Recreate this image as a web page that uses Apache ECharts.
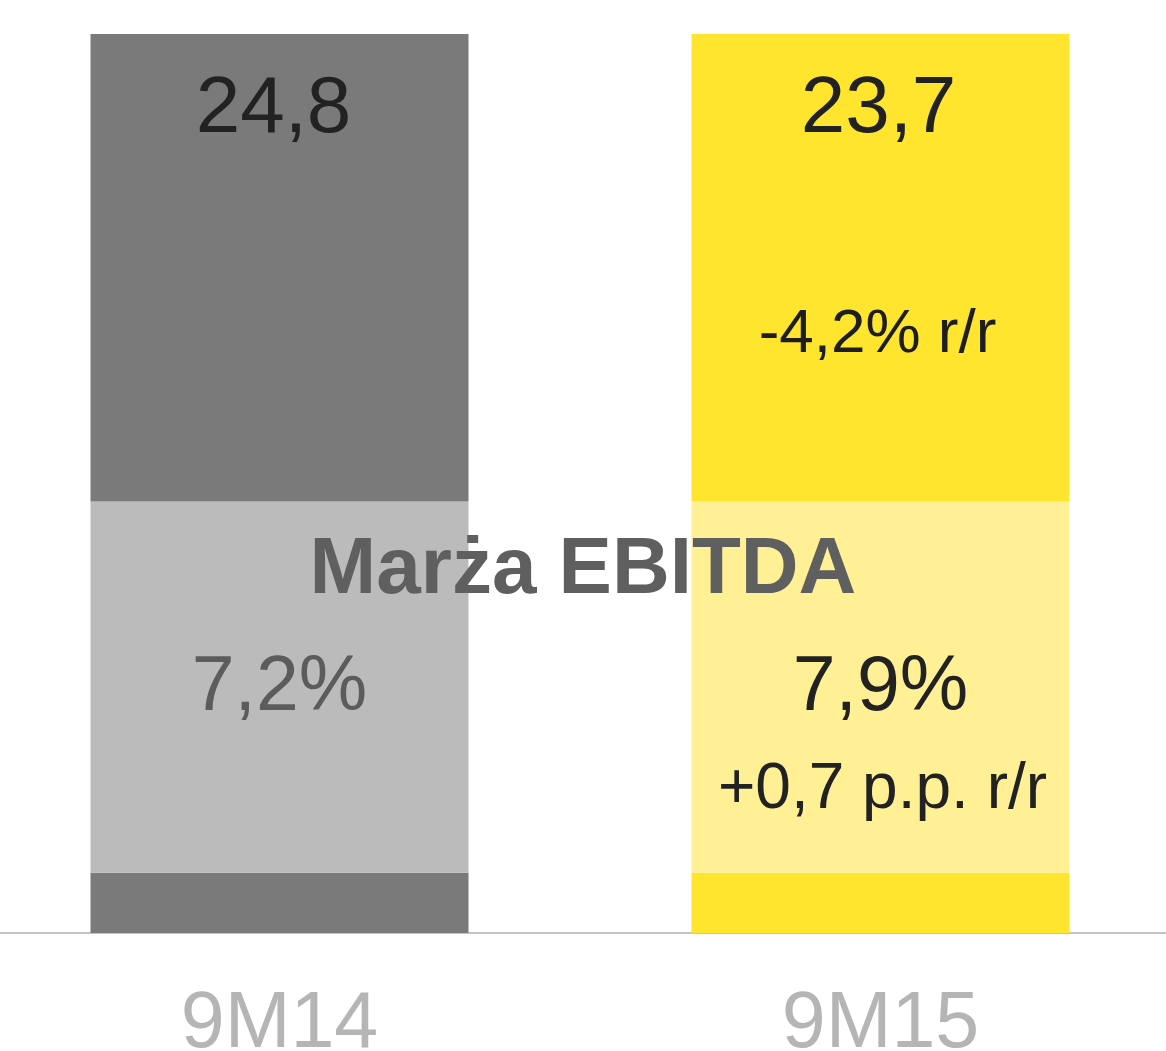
<!DOCTYPE html>
<html>
<head>
<meta charset="utf-8">
<script src="https://cdn.jsdelivr.net/npm/echarts@6/dist/echarts.min.js"></script>
<style>
  html, body { margin: 0; padding: 0; background: #fff; }
  #chart { width: 1166px; height: 1051px; }
</style>
</head>
<body>
<div id="chart"></div>
<script>
// dane
const categories = ["9M14", "9M15"];
const ebitda = ["24,8", "23,7"];
const ebitdaChange = ["", "-4,2% r/r"];
const margin = ["7,2%", "7,9%"];
const marginChange = ["", "+0,7 p.p. r/r"];
// podział wysokości słupka (w % całej wysokości)
const baseShare = [6.7, 6.7];
const marginShare = [41.3, 41.3];
const topShare = [52.0, 52.0];

const FONT = '"Liberation Sans", Arial, Helvetica, sans-serif';
const darkColors = ["#7a7a7a", "#ffe52e"];
const lightColors = ["#bbbbbb", "#fff096"];
const marginTextColors = ["#5c5c5c", "#222222"];
const valueShift = [12, 4]; // lekkie przesunięcie wartości w lewo

const chart = echarts.init(document.getElementById("chart"), null, { renderer: "canvas" });

chart.setOption({
    animation: false,
    backgroundColor: "#ffffff",
    grid: { left: -21, right: -15, top: 34, bottom: 118, outerBoundsMode: "none", containLabel: false },
    xAxis: {
        type: "category",
        data: categories,
        axisLine: { show: true, lineStyle: { color: "#c4c4c4", width: 2 } },
        axisTick: { show: false },
        axisLabel: {
            color: "#b5b5b5",
            fontSize: 79,
            fontFamily: FONT,
            margin: 53,
            lineHeight: 79,
        },
    },
    yAxis: { type: "value", min: 0, max: 100, show: false, splitLine: { show: false } },
    series: [
        {
            type: "bar",
            stack: "s",
            barWidth: 378,
            data: baseShare.map((v, i) => ({ value: v, itemStyle: { color: darkColors[i] } })),
        },
        {
            type: "bar",
            stack: "s",
            data: marginShare.map((v, i) => ({
                value: v,
                itemStyle: { color: lightColors[i] },
                label: {
                    show: true,
                    position: ["50%", 147],
                    align: "center",
                    verticalAlign: "top",
                    formatter: "{a|" + margin[i] + "}\n{b|" + marginChange[i] + "}",
                    rich: {
                        a: { fontSize: 77, lineHeight: 80, color: marginTextColors[i], fontFamily: FONT },
                        b: { fontSize: 64, lineHeight: 123, color: "#222222", fontFamily: FONT, padding: [0, 0, 0, 4] },
                    },
                },
            })),
        },
        {
            type: "bar",
            stack: "s",
            data: topShare.map((v, i) => ({
                value: v,
                itemStyle: { color: darkColors[i] },
                label: {
                    show: true,
                    position: ["50%", 36],
                    align: "center",
                    verticalAlign: "top",
                    formatter: "{a|" + ebitda[i] + "}\n{b|" + ebitdaChange[i] + "}",
                    rich: {
                        a: { fontSize: 80, lineHeight: 80, color: "#222222", fontFamily: FONT, padding: [0, valueShift[i], 0, 0] },
                        b: { fontSize: 62, lineHeight: 370, color: "#1e1e1e", fontFamily: FONT, padding: [0, 6, 0, 0] },
                    },
                },
            })),
        },
    ],
    graphic: [
        {
            type: "text",
            x: 583,
            y: 571,
            z: 100,
            style: {
                text: "Marża EBITDA",
                fill: "#5f5f5f",
                font: "bold 80px " + FONT,
                textAlign: "center",
                textVerticalAlign: "middle",
            },
        },
    ],
});
</script>
</body>
</html>
